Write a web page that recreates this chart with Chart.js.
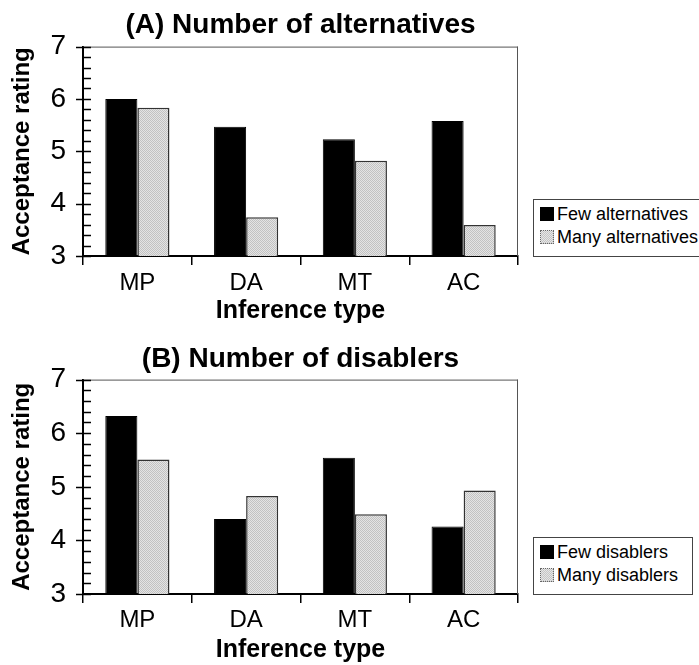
<!DOCTYPE html>
<html>
<head>
<meta charset="utf-8">
<script src="https://cdn.jsdelivr.net/npm/chart.js@4.4.1/dist/chart.umd.min.js"></script>
<style>
  html, body { margin: 0; padding: 0; background: #fff; overflow: hidden; }
  body { width: 699px; height: 665px; position: relative; font-family: "Liberation Sans", Arial, sans-serif; }
  .panel { position: absolute; left: 0; }
  .legend {
    position: absolute; left: 533px; border: 1px solid #444; background: #fff;
    font-size: 18px; color: #000; box-sizing: border-box; padding: 3px 0 0 6px; white-space: nowrap;
  }
  .legend div { height: 23px; line-height: 23px; }
  .swatch { display: inline-block; width: 14px; height: 14px; vertical-align: -1px; margin-right: 3px; box-sizing: border-box; }
  .swatch.few { background: #000; }
  .swatch.many {
    border: 1px dotted #666;
    background: repeating-conic-gradient(#c4c4c4 0 25%, #e6e6e6 0 50%) 0 0 / 2px 2px;
  }
</style>
</head>
<body>
<div class="panel" style="top:0"><canvas id="chartA" width="699" height="330"></canvas></div>
<div class="panel" style="top:330px"><canvas id="chartB" width="699" height="335"></canvas></div>

<div class="legend" style="top:199px; width:180px; height:58px;">
  <div><span class="swatch few"></span>Few alternatives</div>
  <div><span class="swatch many"></span>Many alternatives</div>
</div>
<div class="legend" style="top:537px; width:160px; height:58px;">
  <div><span class="swatch few"></span>Few disablers</div>
  <div><span class="swatch many"></span>Many disablers</div>
</div>

<script>
const inferenceTypes = ["MP", "DA", "MT", "AC"];

// (A) Number of alternatives
const fewAlternatives = [6.0, 5.47, 5.23, 5.58];
const manyAlternatives = [5.83, 3.74, 4.82, 3.59];

// (B) Number of disablers
const fewDisablers = [6.32, 4.40, 5.54, 4.26];
const manyDisablers = [5.51, 4.83, 4.49, 4.93];

const yMin = 3;
const yMax = 7;
const minorStep = 0.2;

const FONT = '"Liberation Sans", Arial, sans-serif';

// dotted light grey fill like the printed figure
function greyPattern() {
    const c = document.createElement("canvas");
    c.width = 2; c.height = 2;
    const g = c.getContext("2d");
    g.fillStyle = "#e4e4e4"; g.fillRect(0, 0, 2, 2);
    g.fillStyle = "#c2c2c2"; g.fillRect(0, 0, 1, 1); g.fillRect(1, 1, 1, 1);
    return g.createPattern(c, "repeat");
}

// box frame + inward ticks on the y axis
const framePlugin = {
    id: "frame",
    afterDraw(chart) {
        const { ctx, chartArea: a, scales: { y } } = chart;
        ctx.save();
        ctx.strokeStyle = "#555";
        ctx.lineWidth = 1;
        ctx.beginPath();
        ctx.moveTo(a.left, a.top + 0.5);
        ctx.lineTo(a.right, a.top + 0.5);
        ctx.moveTo(a.right - 0.5, a.top);
        ctx.lineTo(a.right - 0.5, a.bottom);
        ctx.stroke();

        ctx.strokeStyle = "#000";
        ctx.lineWidth = 1.5;
        const n = Math.round((yMax - yMin) / minorStep);
        for (let i = 0; i <= n; i++) {
            const v = yMin + i * minorStep;
            const py = Math.round(y.getPixelForValue(v)) + 0.5;
            const major = i % 5 === 0;
            ctx.beginPath();
            ctx.moveTo(a.left - (major ? 7 : 0), py);
            ctx.lineTo(a.left + 8, py);
            ctx.stroke();
        }
        ctx.restore();
    }
};

function makeChart(id, title, fewData, manyData, fewLabel, manyLabel, dims) {
    const ctx = document.getElementById(id).getContext("2d");
    return new Chart(ctx, {
        type: "bar",
        data: {
            labels: inferenceTypes,
            datasets: [
                {
                    label: fewLabel,
                    data: fewData,
                    backgroundColor: "#000",
                    borderColor: "#000",
                    borderWidth: 1
                },
                {
                    label: manyLabel,
                    data: manyData,
                    backgroundColor: greyPattern(),
                    borderColor: "#333",
                    borderWidth: 1.5
                }
            ]
        },
        plugins: [framePlugin],
        options: {
            responsive: false,
            animation: false,
            events: [],
            layout: { padding: { left: 0, right: 181, top: 0, bottom: 0 } },
            datasets: { bar: { categoryPercentage: 0.59, barPercentage: 1.0 } },
            plugins: {
                legend: { display: false },
                tooltip: { enabled: false },
                title: {
                    display: true,
                    text: title,
                    fullSize: false,
                    color: "#000",
                    font: { family: FONT, size: 28, weight: "bold" },
                    padding: dims.titlePad
                }
            },
            scales: {
                x: {
                    grid: { offset: true, drawOnChartArea: false, tickLength: 9, color: "#000", lineWidth: 1.5 },
                    border: { display: true, color: "#000", width: 2 },
                    ticks: { color: "#000", font: { family: FONT, size: 24 }, padding: dims.xTickPad },
                    title: {
                        display: true,
                        text: "Inference type",
                        color: "#000",
                        font: { family: FONT, size: 25, weight: "bold" },
                        padding: { top: 0, bottom: dims.xTitleBottom }
                    },
                    afterFit(s) { s.height = dims.xHeight; }
                },
                y: {
                    min: yMin,
                    max: yMax,
                    beginAtZero: false,
                    grid: { drawOnChartArea: false, drawTicks: false },
                    border: { display: true, color: "#000", width: 2 },
                    ticks: { stepSize: 1, color: "#000", font: { family: FONT, size: 28 }, padding: 17 },
                    title: {
                        display: true,
                        text: "Acceptance rating",
                        color: "#000",
                        font: { family: FONT, size: 24, weight: "bold" },
                        padding: { top: 8, bottom: 0 }
                    },
                    afterFit(s) { s.width = 83; }
                }
            }
        }
    });
}

makeChart("chartA", "(A) Number of alternatives", fewAlternatives, manyAlternatives,
    "Few alternatives", "Many alternatives",
    { titlePad: { top: 8, bottom: 5 }, xTickPad: 4, xTitleBottom: 4, xHeight: 74 });

makeChart("chartB", "(B) Number of disablers", fewDisablers, manyDisablers,
    "Few disablers", "Many disablers",
    { titlePad: { top: 12, bottom: 4 }, xTickPad: 3, xTitleBottom: 0, xHeight: 71 });
</script>
</body>
</html>
